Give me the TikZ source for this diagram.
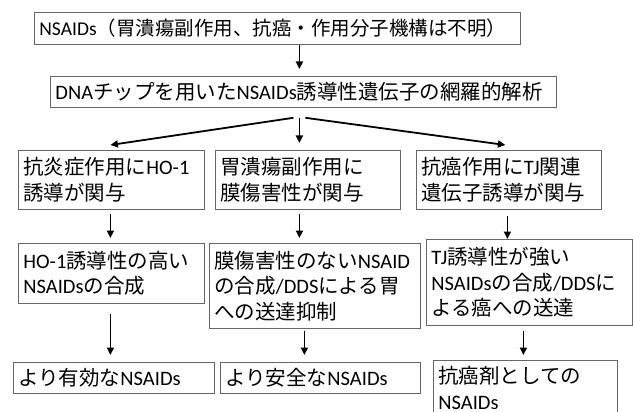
\documentclass[tikz,border=0pt]{standalone}
\usepackage{fontspec}
\setmainfont{Noto Sans CJK JP}
\newfontfamily\lt{Carlito}
\usetikzlibrary{arrows.meta}
\tikzset{
  box/.style={draw=black!60, line width=0.8pt, anchor=north west, align=left,
    inner xsep=5pt, inner ysep=2pt, font=\fontsize{20.5}{25.5}\selectfont},
  arr/.style={line width=1.8pt, -{Triangle[length=7.5pt,width=7pt]}},
}
\begin{document}
\begin{tikzpicture}[x=1pt,y=-1pt]
\useasboundingbox (0,0) rectangle (633,412);
\clip (0,0) rectangle (633,412);
\fill[white] (0,0) rectangle (633,412);
% boxes
\node[box, text width=476pt, minimum height=32pt, font=\fontsize{19.5}{24}\selectfont] (b1) at (34,12)
  {{\lt NSAIDs}（胃潰瘍副作用、抗癌・作用分子機構は不明）};
\node[box, text width=496pt, minimum height=31pt] (b2) at (50,76)
  {{\lt DNA}チップを用いた{\lt NSAIDs}誘導性遺伝子の網羅的解析};
\node[box, text width=176pt, minimum height=59pt] (r3a) at (18,150)
  {抗炎症作用に{\lt HO-1}\\誘導が関与};
\node[box, text width=175pt, minimum height=59pt] (r3b) at (215,150)
  {胃潰瘍副作用に\\膜傷害性が関与};
\node[box, text width=175pt, minimum height=59pt] (r3c) at (416,150)
  {抗癌作用に{\lt TJ}関連\\遺伝子誘導が関与};
\node[box, text width=176pt, minimum height=60pt] (r4a) at (18,243)
  {{\lt HO-1}誘導性の高い\\{\lt NSAIDs}の合成};
\node[box, text width=201pt, minimum height=85pt] (r4b) at (209,243)
  {膜傷害性のない{\lt NSAID}\\の合成{\lt /DDS}による胃\\への送達抑制};
\node[box, text width=196pt, minimum height=86pt] (r4c) at (426,239)
  {{\lt TJ}誘導性が強い\\{\lt NSAIDs}の合成{\lt /DDS}に\\よる癌への送達};
\node[box, text width=191pt, minimum height=31pt] (r5a) at (13,362)
  {より有効な{\lt NSAIDs}};
\node[box, text width=190pt, minimum height=31pt] (r5b) at (220,362)
  {より安全な{\lt NSAIDs}};
\node[box, text width=174pt, minimum height=55pt] (r5c) at (433,360)
  {抗癌剤としての\\{\lt NSAIDs}};
% arrows
\draw[arr] ([xshift=22pt]b1.south) -- ([xshift=-4pt,yshift=7pt]b2.north);
\draw[arr] ([xshift=-10pt,yshift=-10pt]b2.south) -- ([xshift=-1pt,yshift=5pt]r3a.north);
\draw[arr] ([xshift=-4pt,yshift=-10pt]b2.south) -- ([xshift=-8.5pt,yshift=7pt]r3b.north);
\draw[arr] ([xshift=2pt,yshift=-10pt]b2.south) -- ([xshift=-3.5pt,yshift=5pt]r3c.north);
\draw[arr] ([xshift=-1pt,yshift=-4pt]r3a.south) -- ([xshift=-1pt,yshift=5pt]r4a.north);
\draw[arr] ([xshift=-8.5pt,yshift=-4pt]r3b.south) -- ([xshift=-15.5pt,yshift=5pt]r4b.north);
\draw[arr] ([xshift=-1.5pt,yshift=-6pt]r3c.south) -- ([xshift=-22pt,yshift=0pt]r4c.north);
\draw[arr] ([xshift=-1pt,yshift=-10pt]r4a.south) -- ([xshift=-3.5pt,yshift=7pt]r5a.north);
\draw[arr] ([xshift=-10.5pt,yshift=-2pt]r4b.south) -- ([xshift=-16pt,yshift=7pt]r5b.north);
\draw[arr] ([xshift=-6pt,yshift=-5pt]r4c.south) -- ([xshift=-2pt,yshift=5pt]r5c.north);
\end{tikzpicture}
\end{document}
